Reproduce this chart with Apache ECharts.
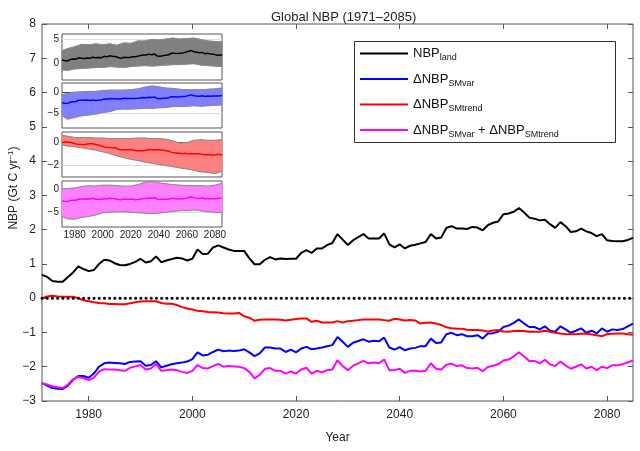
<!DOCTYPE html>
<html><head><meta charset="utf-8">
<script src="https://cdn.jsdelivr.net/npm/echarts@6/dist/echarts.min.js"></script>
<style>html,body{margin:0;padding:0;background:#fff}#c{width:640px;height:451px}</style>
</head><body><div id="c"></div>
<script>
// ---------- data ----------
const years = Array.from({length: 115}, (_, i) => 1971 + i);
const nbpLand = [0.68,0.62,0.5,0.48,0.48,0.62,0.75,0.93,0.85,0.79,
 0.82,1.0,1.12,1.1,1.02,0.97,0.96,1.0,1.06,1.15,
 1.04,1.08,1.22,1.05,1.1,1.14,1.18,1.16,1.1,1.15,
 1.42,1.29,1.3,1.48,1.54,1.48,1.42,1.38,1.38,1.38,
 1.16,0.99,0.99,1.12,1.2,1.13,1.16,1.14,1.15,1.15,
 1.32,1.4,1.32,1.45,1.45,1.55,1.61,1.87,1.71,1.55,
 1.69,1.78,1.87,1.74,1.74,1.74,1.89,1.57,1.48,1.57,
 1.45,1.53,1.56,1.6,1.64,1.87,1.74,1.77,2.05,2.1,
 2.03,2.03,2.02,2.08,2.06,1.98,2.13,2.2,2.24,2.45,
 2.47,2.52,2.63,2.5,2.35,2.32,2.27,2.29,2.16,2.05,
 2.22,2.1,1.93,1.95,2.03,1.95,1.9,1.81,1.87,1.69,
 1.67,1.66,1.66,1.7,1.76];
const smVar = [-2.48,-2.55,-2.62,-2.64,-2.65,-2.55,-2.38,-2.27,-2.27,-2.32,
 -2.2,-2.0,-1.9,-1.88,-1.89,-1.9,-1.92,-1.86,-1.85,-1.84,
 -1.97,-1.95,-1.84,-2.02,-1.97,-1.93,-1.9,-1.88,-1.85,-1.78,
 -1.58,-1.67,-1.65,-1.57,-1.5,-1.55,-1.53,-1.54,-1.53,-1.49,
 -1.58,-1.69,-1.61,-1.44,-1.44,-1.47,-1.47,-1.57,-1.5,-1.58,
 -1.47,-1.42,-1.49,-1.47,-1.44,-1.4,-1.37,-1.13,-1.27,-1.42,
 -1.3,-1.25,-1.2,-1.27,-1.24,-1.26,-1.15,-1.44,-1.5,-1.43,
 -1.52,-1.47,-1.45,-1.4,-1.4,-1.18,-1.31,-1.29,-1.05,-1.01,
 -1.08,-1.05,-1.11,-1.11,-1.08,-1.18,-1.03,-1.02,-0.98,-0.84,
 -0.8,-0.72,-0.62,-0.74,-0.84,-0.84,-0.91,-0.82,-0.95,-0.98,
 -0.82,-0.91,-1.01,-0.95,-0.88,-1.01,-0.95,-1.03,-0.88,-0.98,
 -0.91,-0.93,-0.9,-0.82,-0.74];
const smTrend = [0.0,0.05,0.07,0.05,0.04,0.04,0.04,0.0,-0.06,-0.09,
 -0.12,-0.14,-0.15,-0.17,-0.17,-0.18,-0.18,-0.15,-0.12,-0.1,
 -0.09,-0.09,-0.09,-0.14,-0.16,-0.16,-0.2,-0.26,-0.3,-0.33,
 -0.37,-0.38,-0.4,-0.41,-0.42,-0.44,-0.45,-0.45,-0.43,-0.53,
 -0.57,-0.66,-0.63,-0.62,-0.62,-0.62,-0.63,-0.65,-0.63,-0.61,
 -0.59,-0.59,-0.69,-0.66,-0.71,-0.71,-0.71,-0.67,-0.71,-0.67,
 -0.66,-0.64,-0.62,-0.62,-0.62,-0.62,-0.64,-0.66,-0.6,-0.62,
 -0.65,-0.64,-0.65,-0.74,-0.72,-0.71,-0.74,-0.78,-0.85,-0.88,
 -0.89,-0.89,-0.92,-0.93,-0.93,-0.94,-0.97,-0.94,-0.93,-0.97,
 -0.98,-0.96,-0.95,-0.96,-0.98,-0.98,-0.98,-0.95,-0.98,-1.01,
 -1.03,-1.05,-1.05,-1.05,-1.04,-1.03,-1.06,-1.08,-1.11,-1.05,
 -1.04,-1.03,-1.03,-1.05,-1.07];
const smSum = [-2.48,-2.52,-2.57,-2.6,-2.62,-2.52,-2.36,-2.3,-2.33,-2.39,
 -2.32,-2.14,-2.07,-2.08,-2.08,-2.1,-2.12,-2.03,-1.99,-1.95,
 -2.08,-2.05,-1.92,-2.12,-2.1,-2.08,-2.1,-2.15,-2.18,-2.12,
 -1.95,-2.04,-2.05,-1.98,-1.92,-2.0,-1.98,-1.99,-2.0,-2.04,
 -2.15,-2.34,-2.24,-2.06,-2.04,-2.12,-2.12,-2.2,-2.14,-2.2,
 -2.08,-2.03,-2.2,-2.12,-2.16,-2.1,-2.08,-1.81,-1.98,-2.1,
 -1.97,-1.9,-1.83,-1.9,-1.88,-1.9,-1.79,-2.1,-2.1,-2.06,
 -2.18,-2.12,-2.12,-2.14,-2.12,-1.9,-2.06,-2.08,-1.94,-1.91,
 -1.98,-1.96,-2.04,-2.05,-2.03,-2.13,-2.01,-1.97,-1.93,-1.82,
 -1.79,-1.7,-1.58,-1.7,-1.83,-1.83,-1.9,-1.8,-1.93,-1.98,
 -1.85,-1.96,-2.06,-2.0,-1.93,-2.05,-2.0,-2.1,-2.0,-2.04,
 -1.96,-1.96,-1.93,-1.87,-1.82];

const bandYears = [1971,1975,1980,1985,1990,1995,2000,2005,2010,2015,2020,2025,2030,2035,2040,2045,2050,2055,2060,2065,2070,2075,2080,2085];
const p1Upper = [2.6,3.0,3.4,3.9,3.8,4.0,3.8,4.0,3.7,4.2,4.1,4.6,4.6,4.9,4.8,5.0,5.2,5.0,5.1,5.2,4.9,4.6,4.5,4.4];
const p1Lower = [-1.4,-1.5,-1.2,-1.1,-1.0,-0.9,-0.9,-0.7,-0.8,-0.9,-0.7,-0.6,-0.5,-0.6,-0.5,-0.4,-0.3,-0.3,-0.2,-0.1,-0.4,-0.5,-0.6,-0.7];
const p2Upper = [-0.6,-0.3,0.0,0.1,0.2,0.2,0.4,0.5,0.5,0.5,0.6,0.8,1.2,1.5,1.3,1.0,0.9,0.7,0.6,0.6,0.6,0.7,0.8,1.0];
const p2Lower = [-5.6,-6.4,-6.0,-5.6,-5.4,-5.2,-4.8,-4.6,-4.1,-4.0,-4.0,-3.9,-3.8,-3.8,-3.7,-3.6,-3.4,-3.4,-3.3,-3.2,-3.3,-3.2,-3.1,-3.0];
const p3Upper = [0.65,0.55,0.45,0.45,0.45,0.4,0.4,0.35,0.35,0.35,0.35,0.4,0.4,0.35,0.35,0.3,0.15,-0.05,0.0,0.2,0.25,0.2,0.2,0.25];
const p3Lower = [-0.2,-0.3,-0.35,-0.45,-0.55,-0.65,-0.8,-0.95,-1.15,-1.3,-1.45,-1.55,-1.7,-1.8,-1.9,-2.0,-2.1,-2.2,-2.3,-2.4,-2.55,-2.6,-2.7,-2.5];
const p4Upper = [0.1,0.2,0.3,0.6,0.8,0.7,0.9,0.9,0.8,0.7,0.7,1.0,1.5,1.7,1.4,1.2,1.0,0.9,0.8,0.8,0.8,0.7,0.9,1.3];
const p4Lower = [-5.8,-6.3,-6.4,-6.0,-5.8,-5.5,-5.0,-4.9,-4.8,-4.8,-4.9,-5.0,-5.1,-5.2,-5.1,-4.9,-4.7,-4.6,-4.5,-4.4,-4.6,-4.8,-4.9,-5.0];

const xTickLabels = [1980, 2000, 2020, 2040, 2060, 2080];
const insetXTicks = [1980, 1990, 2000, 2010, 2020, 2030, 2040, 2050, 2060, 2070, 2080];
const insetYTicks = [[0, 5], [-5, 0], [-2, 0], [-5, 0]];
const insetGridLine = [5, -5, -2, -5];
const insetRange = [[-3.5, 6.05], [-8.5, 2.2], [-3, 0.93], [-8.07, 1.8]];

// ---------- chart ----------
const FONT = '"Liberation Sans", Arial, Helvetica, sans-serif';
const minus = v => String(v).replace('-', '\u2212');
const plain = v => String(v);
const pairs = (xs, ys) => xs.map((x, i) => [x, ys[i]]);

const insetDefs = [
  {mean: nbpLand, up: p1Upper, lo: p1Lower, fill: '#808080', line: '#000000', top: 34, h: 46},
  {mean: smVar, up: p2Upper, lo: p2Lower, fill: '#8080ff', line: '#0000ff', top: 83, h: 45},
  {mean: smTrend, up: p3Upper, lo: p3Lower, fill: '#ff8080', line: '#ff0000', top: 132, h: 45},
  {mean: smSum, up: p4Upper, lo: p4Lower, fill: '#ff80ff', line: '#ff00ff', top: 181, h: 46}
];

const grid = [{left: 42, top: 24, width: 591, height: 377, show: true, borderColor: '#555', borderWidth: 1, backgroundColor: 'transparent'}];
const xAxis = [
  {gridIndex: 0, type: 'value', min: 1971, max: 2085, position: 'bottom',
   axisLine: {show: false, onZero: false}, splitLine: {show: false},
   axisTick: {inside: true, length: 5, customValues: xTickLabels, lineStyle: {color: '#555'}},
   axisLabel: {customValues: xTickLabels, fontSize: 12, color: '#222', fontFamily: FONT, margin: 8, formatter: plain},
   name: 'Year', nameLocation: 'middle', nameGap: 31,
   nameTextStyle: {fontSize: 12, color: '#222', fontFamily: FONT}},
  {gridIndex: 0, type: 'value', min: 1971, max: 2085, position: 'top',
   axisLine: {show: false, onZero: false}, splitLine: {show: false},
   axisTick: {inside: true, length: 5, customValues: xTickLabels, lineStyle: {color: '#555'}},
   axisLabel: {show: false}}
];
const yAxis = [
  {gridIndex: 0, type: 'value', min: -3, max: 8, interval: 1, position: 'left',
   axisLine: {show: false, onZero: false}, splitLine: {show: false},
   axisTick: {inside: true, length: 5, lineStyle: {color: '#555'}},
   axisLabel: {fontSize: 12, color: '#222', fontFamily: FONT, margin: 6, formatter: minus}},
  {gridIndex: 0, type: 'value', min: -3, max: 8, interval: 1, position: 'right',
   axisLine: {show: false, onZero: false}, splitLine: {show: false},
   axisTick: {inside: true, length: 5, lineStyle: {color: '#555'}},
   axisLabel: {show: false}}
];

const series = [];
const mainDefs = [
  {name: 'NBPland', data: nbpLand, color: '#000000'},
  {name: 'SMvar', data: smVar, color: '#0000ff'},
  {name: 'SMtrend', data: smTrend, color: '#ff0000'},
  {name: 'SMsum', data: smSum, color: '#ff00ff'}
];
mainDefs.forEach(d => series.push({
  name: d.name, type: 'line', xAxisIndex: 0, yAxisIndex: 0,
  data: pairs(years, d.data), symbol: 'none', color: d.color,
  lineStyle: {color: d.color, width: 2}, z: 3
}));
series.push({
  type: 'line', xAxisIndex: 0, yAxisIndex: 0, data: [[1971, 0], [2085, 0]],
  symbol: 'none', silent: true, z: 6,
  lineStyle: {color: '#000', width: 3, type: [0.1, 5.1], cap: 'round'}
});

insetDefs.forEach((d, k) => {
  grid.push({left: 62, top: d.top, width: 160, height: d.h, show: true,
    borderColor: '#555', borderWidth: 1, backgroundColor: '#fff', z: 4});
  const gi = k + 1;
  xAxis.push({gridIndex: gi, type: 'value', min: 1971, max: 2085, position: 'bottom',
    axisLine: {show: false, onZero: false}, splitLine: {show: false},
    axisTick: {inside: true, length: 3, customValues: insetXTicks, lineStyle: {color: '#555'}},
    axisLabel: k === 3 ? {customValues: xTickLabels, fontSize: 10, color: '#222', fontFamily: FONT, margin: 3, formatter: plain} : {show: false}});
  yAxis.push({gridIndex: gi, type: 'value', min: insetRange[k][0], max: insetRange[k][1], position: 'left',
    axisLine: {show: false, onZero: false}, splitLine: {show: false},
    axisTick: {inside: true, length: 3, customValues: insetYTicks[k], lineStyle: {color: '#555'}},
    axisLabel: {customValues: insetYTicks[k], fontSize: 10, color: '#222', fontFamily: FONT, margin: 3, formatter: minus}});
});
insetDefs.forEach((d, k) => {
  xAxis.push({gridIndex: k + 1, type: 'value', min: 1971, max: 2085, position: 'top',
    axisLine: {show: false, onZero: false}, splitLine: {show: false},
    axisTick: {inside: true, length: 3, customValues: insetXTicks, lineStyle: {color: '#555'}},
    axisLabel: {show: false}});
});

insetDefs.forEach((d, k) => {
  const xi = 2 + k, yi = 2 + k;
  const common = {xAxisIndex: xi, yAxisIndex: yi, silent: true, z: 5};
  // band (polygon segments between lower and upper envelope)
  const segs = bandYears.slice(0, -1).map((y, i) =>
    [y, d.lo[i], d.up[i], bandYears[i + 1], d.lo[i + 1], d.up[i + 1]]);
  series.push(Object.assign({}, common, {
    type: 'custom', coordinateSystem: 'cartesian2d', data: segs,
    encode: {x: [0, 3], y: [1, 2, 4, 5]},
    renderItem: (params, api) => {
      const pts = [
        api.coord([api.value(0), api.value(2)]),
        api.coord([api.value(3), api.value(5)]),
        api.coord([api.value(3), api.value(4)]),
        api.coord([api.value(0), api.value(1)])
      ];
      return {type: 'polygon', shape: {points: pts},
        style: {fill: d.fill, stroke: d.fill, lineWidth: 0.8}};
    },
    markLine: {silent: true, symbol: ['none', 'none'], label: {show: false}, z: 4,
      lineStyle: {color: '#dcdcdc', width: 1, type: 'solid'}, data: [{yAxis: insetGridLine[k]}]}
  }));
  series.push(Object.assign({}, common, {type: 'line', symbol: 'none', data: pairs(bandYears, d.up), lineStyle: {color: '#8a8a8a', width: 1}}));
  series.push(Object.assign({}, common, {type: 'line', symbol: 'none', data: pairs(bandYears, d.lo), lineStyle: {color: '#8a8a8a', width: 1}}));
  series.push(Object.assign({}, common, {
    type: 'line', symbol: 'none',
    data: pairs(years, d.mean), lineStyle: {color: d.line, width: 1.5}, z: 6,
    markLine: {silent: true, symbol: ['none', 'none'], label: {show: false},
      lineStyle: {color: '#444', width: 1, type: 'solid'}, data: [{yAxis: 0}]}
  }));
});

const legendText = {
  NBPland: '{n|NBP}{s|land}',
  SMvar: '{n|\u0394NBP}{s|SMvar}',
  SMtrend: '{n|\u0394NBP}{s|SMtrend}',
  SMsum: '{n|\u0394NBP}{s|SMvar}{n| + \u0394NBP}{s|SMtrend}'
};

const option = {
  animation: false,
  backgroundColor: '#fff',
  title: {text: 'Global NBP (1971\u20132085)', left: 266, top: 6,
    textStyle: {fontSize: 13, fontWeight: 'normal', color: '#222', fontFamily: FONT}},
  legend: {orient: 'vertical', left: 360, top: 47, padding: 0, itemWidth: 48, itemHeight: 2, itemGap: 10,
    icon: 'rect', selectedMode: false, data: ['NBPland', 'SMvar', 'SMtrend', 'SMsum'],
    formatter: n => legendText[n],
    textStyle: {fontFamily: FONT, color: '#111', fontSize: 13,
      rich: {n: {fontSize: 13, fontFamily: FONT, color: '#111'},
             s: {fontSize: 9, fontFamily: FONT, color: '#111', padding: [9, 0, 0, 0]}}}},
  grid, xAxis, yAxis, series,
  graphic: [
    {type: 'rect', shape: {x: 354.5, y: 41.5, width: 261, height: 101}, style: {fill: 'none', stroke: '#333', lineWidth: 1}, z: 10, silent: true},
    {type: 'text', x: 14, y: 188, rotation: Math.PI / 2, silent: true,
     style: {text: '{n|NBP (Gt C yr}{p|\u22121}{n|)}', align: 'center', verticalAlign: 'middle',
       rich: {n: {fontSize: 12, fontFamily: FONT, fill: '#222'},
              p: {fontSize: 8, fontFamily: FONT, fill: '#222', padding: [0, 0, 7, 0]}}}}
  ]
};
const chart = echarts.init(document.getElementById('c'), null, {renderer: 'canvas'});
chart.setOption(option);
</script></body></html>
